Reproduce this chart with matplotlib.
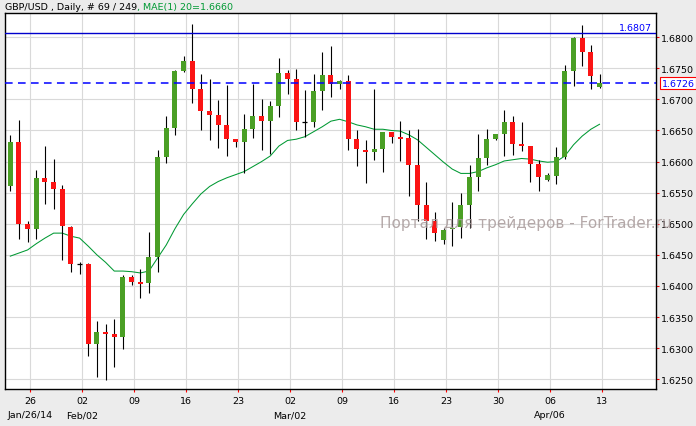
import matplotlib
matplotlib.use("Agg")
import matplotlib.pyplot as plt
import matplotlib.transforms as mtransforms

# daily GBP/USD candles, Jan 23 2014 .. Apr 13 2014 (Sunday bars included)
opens = [1.6560, 1.6632, 1.6499, 1.6491, 1.6574, 1.6568, 1.6556, 1.6495, 1.6436, 1.6436,
         1.6307, 1.6326, 1.6323, 1.6318, 1.6415, 1.6407, 1.6405, 1.6447, 1.6607, 1.6654,
         1.6746, 1.6762, 1.6717, 1.6682, 1.6675, 1.6659, 1.6637, 1.6632, 1.6652, 1.6673,
         1.6666, 1.6689, 1.6742, 1.6733, 1.6664, 1.6664, 1.6714, 1.6739, 1.6725, 1.6730,
         1.6637, 1.6619, 1.6616, 1.6620, 1.6647, 1.6640, 1.6638, 1.6595, 1.6531, 1.6505,
         1.6474, 1.6492, 1.6495, 1.6531, 1.6576, 1.6605, 1.6636, 1.6644, 1.6664, 1.6628,
         1.6625, 1.6596, 1.6571, 1.6577, 1.6607, 1.6746, 1.6799, 1.6777, 1.6720]
highs = [1.6643, 1.6667, 1.6504, 1.6587, 1.6625, 1.6604, 1.6562, 1.6497, 1.6439, 1.6437,
         1.6343, 1.6339, 1.6347, 1.6417, 1.6417, 1.6427, 1.6487, 1.6618, 1.6673, 1.6748,
         1.6770, 1.6821, 1.6741, 1.6733, 1.6699, 1.6723, 1.6637, 1.6677, 1.6725, 1.6701,
         1.6697, 1.6767, 1.6747, 1.6749, 1.6715, 1.6741, 1.6776, 1.6786, 1.6731, 1.6739,
         1.6651, 1.6635, 1.6717, 1.6648, 1.6647, 1.6666, 1.6651, 1.6652, 1.6567, 1.6519,
         1.6494, 1.6535, 1.6550, 1.6595, 1.6644, 1.6652, 1.6645, 1.6683, 1.6673, 1.6664,
         1.6625, 1.6603, 1.6582, 1.6623, 1.6756, 1.6801, 1.6820, 1.6787, 1.6741]
lows = [1.6553, 1.6476, 1.6471, 1.6476, 1.6532, 1.6524, 1.6442, 1.6423, 1.6420, 1.6288,
        1.6253, 1.6249, 1.6269, 1.6298, 1.6402, 1.6380, 1.6389, 1.6423, 1.6597, 1.6642,
        1.6744, 1.6695, 1.6651, 1.6634, 1.6622, 1.6609, 1.6624, 1.6582, 1.6638, 1.6619,
        1.6612, 1.6672, 1.6709, 1.6650, 1.6640, 1.6655, 1.6683, 1.6704, 1.6716, 1.6619,
        1.6593, 1.6566, 1.6603, 1.6584, 1.6630, 1.6601, 1.6544, 1.6505, 1.6476, 1.6473,
        1.6468, 1.6464, 1.6477, 1.6494, 1.6552, 1.6595, 1.6635, 1.6609, 1.6611, 1.6617,
        1.6568, 1.6553, 1.6569, 1.6564, 1.6604, 1.6722, 1.6754, 1.6716, 1.6718]
closes = [1.6632, 1.6499, 1.6491, 1.6574, 1.6568, 1.6556, 1.6496, 1.6436, 1.6436, 1.6307,
          1.6326, 1.6323, 1.6318, 1.6415, 1.6407, 1.6404, 1.6447, 1.6607, 1.6654, 1.6746,
          1.6762, 1.6717, 1.6682, 1.6675, 1.6659, 1.6637, 1.6632, 1.6652, 1.6673, 1.6666,
          1.6689, 1.6742, 1.6733, 1.6664, 1.6664, 1.6714, 1.6739, 1.6725, 1.6730, 1.6637,
          1.6620, 1.6616, 1.6620, 1.6648, 1.6640, 1.6637, 1.6595, 1.6531, 1.6505, 1.6486,
          1.6490, 1.6494, 1.6531, 1.6576, 1.6605, 1.6636, 1.6644, 1.6664, 1.6628, 1.6625,
          1.6596, 1.6575, 1.6578, 1.6607, 1.6746, 1.6799, 1.6777, 1.6737, 1.6726]
ma20 = [1.6448, 1.6453, 1.6458, 1.6468, 1.6477, 1.6485, 1.6485, 1.6480, 1.6477, 1.6464,
        1.6450, 1.6438, 1.6424, 1.6424, 1.6423, 1.6421, 1.6424, 1.6445, 1.6466, 1.6492,
        1.6515, 1.6532, 1.6548, 1.6560, 1.6568, 1.6574, 1.6579, 1.6584, 1.6592, 1.6600,
        1.6609, 1.6625, 1.6634, 1.6636, 1.6640, 1.6648, 1.6656, 1.6665, 1.6668, 1.6664,
        1.6659, 1.6656, 1.6652, 1.6652, 1.6650, 1.6649, 1.6643, 1.6635, 1.6623, 1.6611,
        1.6599, 1.6588, 1.6581, 1.6581, 1.6584, 1.6590, 1.6595, 1.6601, 1.6603, 1.6605,
        1.6604, 1.6601, 1.6599, 1.6600, 1.6609, 1.6627, 1.6641, 1.6652, 1.6660]

tick_bars = [2, 8, 14, 20, 26, 32, 38, 44, 50, 56, 62, 68]
tick_labels = ["26\nJan/26/14", "02\nFeb/02", "09", "16", "23", "02\nMar/02",
               "09", "16", "23", "30", "06\nApr/06", "13"]
price_ticks = [1.6250, 1.6300, 1.6350, 1.6400, 1.6450, 1.6500, 1.6550,
               1.6600, 1.6650, 1.6700, 1.6750, 1.6800]
level_line = 1.6807
last_price = 1.6726

GREEN = "#4a9f25"
RED = "#fb1414"
FONT = "DejaVu Sans"
FS = 6.8

fig = plt.figure(figsize=(6.96, 4.27), dpi=100, facecolor="#ececec")
ax = fig.add_axes([4.7 / 696, 37 / 427, (656 - 4.7) / 696, (390 - 14) / 427])
ax.set_facecolor("white")

x = list(range(len(opens)))
body_w = 0.58

# moving average
ax.plot(x, ma20, color="#009933", lw=0.75, zorder=2)

# wicks
ax.vlines(x, lows, highs, color="black", lw=0.8, zorder=3)

# bodies (doji -> short black dash)
for i in x:
    o, c = opens[i], closes[i]
    if abs(c - o) < 0.00005:
        ax.hlines(o, i - body_w / 2, i + body_w / 2, color="black", lw=0.9, zorder=4)
        continue
    col = GREEN if c > o else RED
    ax.bar(i, abs(c - o), bottom=min(o, c), width=body_w, color=col,
           edgecolor="none", zorder=4)

# horizontal level and current price
ax.axhline(level_line, color="#0000cc", lw=1.0, zorder=5)
ax.axhline(last_price, color="#0000ff", lw=1.1, ls=(0, (5, 3.5)), zorder=5)

ax.set_xlim(-0.646, 74.52)
ax.set_ylim(1.62344, 1.68389)

ax.set_xticks([b + 0.3 for b in tick_bars])
ax.set_xticklabels(tick_labels, fontsize=FS, family=FONT, linespacing=1.8)
ax.yaxis.tick_right()
ax.set_yticks(price_ticks)
ax.set_yticklabels(["%.4f" % p for p in price_ticks], fontsize=FS, family=FONT)
ax.tick_params(axis="x", colors="red", labelcolor="black", length=2.2, width=0.8, pad=2.5)
ax.tick_params(axis="y", colors="red", labelcolor="black", length=2.4, width=0.8, pad=1.3)
ax.grid(True, color="#d9d9d9", lw=0.8, zorder=0)
ax.set_axisbelow(True)
for sp in ax.spines.values():
    sp.set_color("black")
    sp.set_linewidth(1.0)

trans = mtransforms.blended_transform_factory(ax.transAxes, ax.transData)
ax.text(0.994, level_line + 0.00012, "%.4f" % level_line, transform=trans, ha="right",
        va="bottom", color="#0000ff", fontsize=FS, family=FONT, zorder=6)
ax.text(1.0085, last_price, "%.4f" % last_price, transform=trans, ha="left", va="center",
        color="#0000ff", fontsize=FS, family=FONT, clip_on=False, zorder=6,
        bbox=dict(boxstyle="square,pad=0.15", facecolor="white", edgecolor="red", lw=0.8))

# header, second part in green right after the first
t1 = fig.text(4.7 / 696, 1 - 7.5 / 427, "GBP/USD , Daily, # 69 / 249", color="black",
              fontsize=FS, family=FONT, va="center", ha="left")
ax.annotate(", MAE(1) 20=%.4f" % ma20[-1], xy=(1, 0), xycoords=t1, va="bottom",
            ha="left", color="#009933", fontsize=FS, family=FONT, annotation_clip=False)

# watermark
fig.text(380 / 696, 1 - 224 / 427, "Портал для трейдеров - ForTrader.ru", color="#a89a9a",
         alpha=0.85, fontsize=11, family=FONT, va="center", ha="left", zorder=10)

fig.savefig("out.png", dpi=100, facecolor=fig.get_facecolor())
